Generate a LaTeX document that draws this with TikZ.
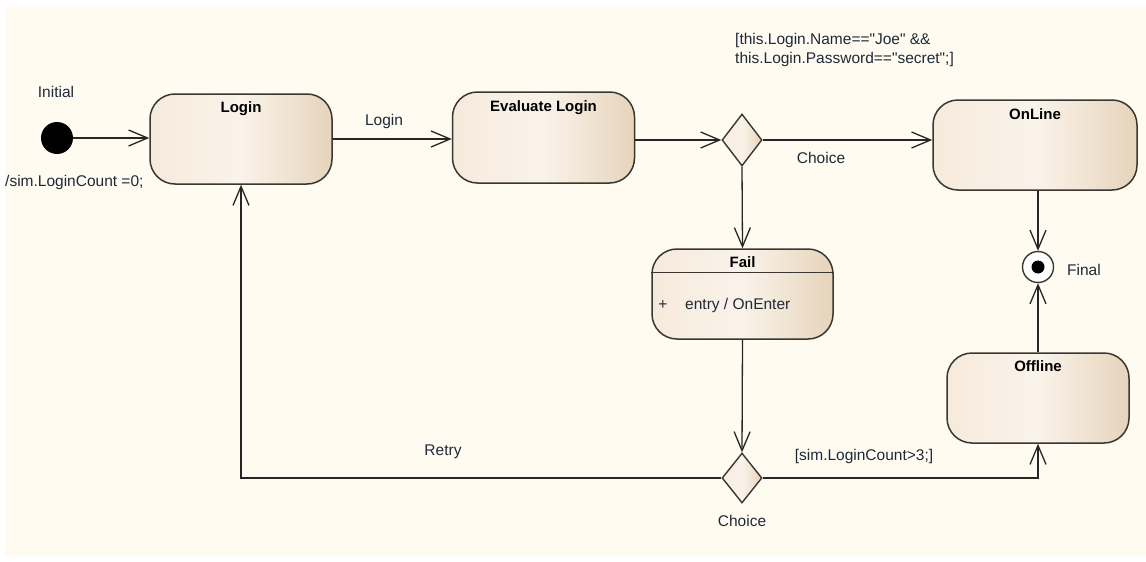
\documentclass[tikz,border=0pt]{standalone}
\usepackage{fontspec}
\setmainfont{Liberation Sans}[Ligatures=TeXOff]
\usetikzlibrary{arrows.meta,shapes.geometric}
\definecolor{bgc}{HTML}{FFFBF1}
\definecolor{bordc}{HTML}{3A3632}
\definecolor{stL}{HTML}{F6EADC}
\definecolor{stM}{HTML}{FAF3EA}
\definecolor{stR}{HTML}{E6D4BB}
\definecolor{lblc}{HTML}{1E2A38}
\begin{document}
\begin{tikzpicture}[x=1pt,y=-1pt,
  statebox/.style={draw=bordc, line width=1.5pt, rounded corners=25pt,
    left color=stL, right color=stR, middle color=stM,
    minimum width=182pt, minimum height=90pt, inner sep=0pt},
  choicebox/.style={diamond, draw=bordc, line width=1.4pt, left color=stL, right color=stR, middle color=stM,
    minimum width=40pt, minimum height=52pt, inner sep=0pt},
  ttl/.style={font=\fontsize{15}{18}\selectfont\bfseries, text=black, inner sep=0pt, anchor=base},
  lbl/.style={font=\fontsize{15.5}{19}\selectfont, text=lblc, inner sep=0pt},
  arr/.style={draw=black!85, line width=1.3pt, -{Straight Barb[length=19pt,width=16pt,line width=1.3pt]}}
]
\useasboundingbox (0,0) rectangle (1146,562);
\fill[white] (0,0) rectangle (1146,562);
\fill[bgc] (5,7) rectangle (1146,556);

% states
\node[statebox] (login) at (241,139) {};
\node[ttl] (loginT) at ([yshift=-19.5pt]login.north) {Login};
\node[statebox, minimum height=91pt] (eval) at (543.5,137.5) {};
\node[ttl] (evalT) at ([yshift=-20.5pt]eval.north) {Evaluate Login};
\node[statebox, minimum width=204pt] (online) at (1035,145) {};
\node[ttl] (onlineT) at ([yshift=-20.5pt]online.north) {OnLine};
\node[statebox] (offline) at (1038,398) {};
\node[ttl] (offlineT) at ([yshift=-19.5pt]offline.north) {Offline};
\node[statebox, minimum width=181pt] (fail) at (742.5,294) {};
\node[ttl] (failT) at ([yshift=-19.5pt]fail.north) {Fail};
\draw[draw=bordc, line width=1.5pt] ([yshift=-24pt]fail.north west) -- ([yshift=-24pt]fail.north east);
\node[lbl, anchor=base] (plus) at (663,309) {+};
\node[lbl, anchor=base west] (entry) at (685,309) {entry / OnEnter};

% pseudo states
\node[circle, fill=black, minimum size=32pt, inner sep=0pt] (init) at (57,138) {};
\node[circle, draw=bordc, line width=1.4pt, fill=white, minimum size=31pt, inner sep=0pt] (final) at (1038,267) {};
\node[circle, fill=black, minimum size=13pt, inner sep=0pt] (finalIn) at (final) {};
\node[choicebox] (d1) at (742,140) {};
\node[choicebox, minimum height=50pt] (d2) at (742,478) {};

% connectors
\draw[arr] (init.east) -- (init.east -| login.west);
\draw[arr] (login.east) -- (login.east -| eval.west);
\draw[arr] (d1.west -| eval.east) -- (d1.west);
\draw[arr] (d1.east) -- (d1.east -| online.west);
\draw[arr] (d1.south) -- (fail.north);
\draw[arr] (fail.south) -- (d2.north);
\draw[arr] (d2.east) -| (offline.south);
\draw[arr] (d2.west) -| (login.south);
\draw[arr] (final.north |- online.south) -- (final.north);
\draw[arr] (offline.north) -- (final.south);

% labels
\node[lbl] (initL) at (56,92) {Initial};
\node[lbl, anchor=west] (effL) at (5,182) {/sim.LoginCount =0;};
\node[lbl] (loginL) at (384,121) {Login};
\node[lbl] (choice1L) at (821,158) {Choice};
\node[lbl, anchor=north west, align=left] (guardL) at (735,33) {[this.Login.Name=="Joe" \&\&\\this.Login.Password=="secret";]};
\node[lbl, anchor=west] (finalL) at (1067,270) {Final};
\node[lbl] (guard2L) at (864,456) {[sim.LoginCount>3;]};
\node[lbl] (retryL) at (443,452) {Retry};
\node[lbl] (choice2L) at (742,521) {Choice};
\end{tikzpicture}
\end{document}
